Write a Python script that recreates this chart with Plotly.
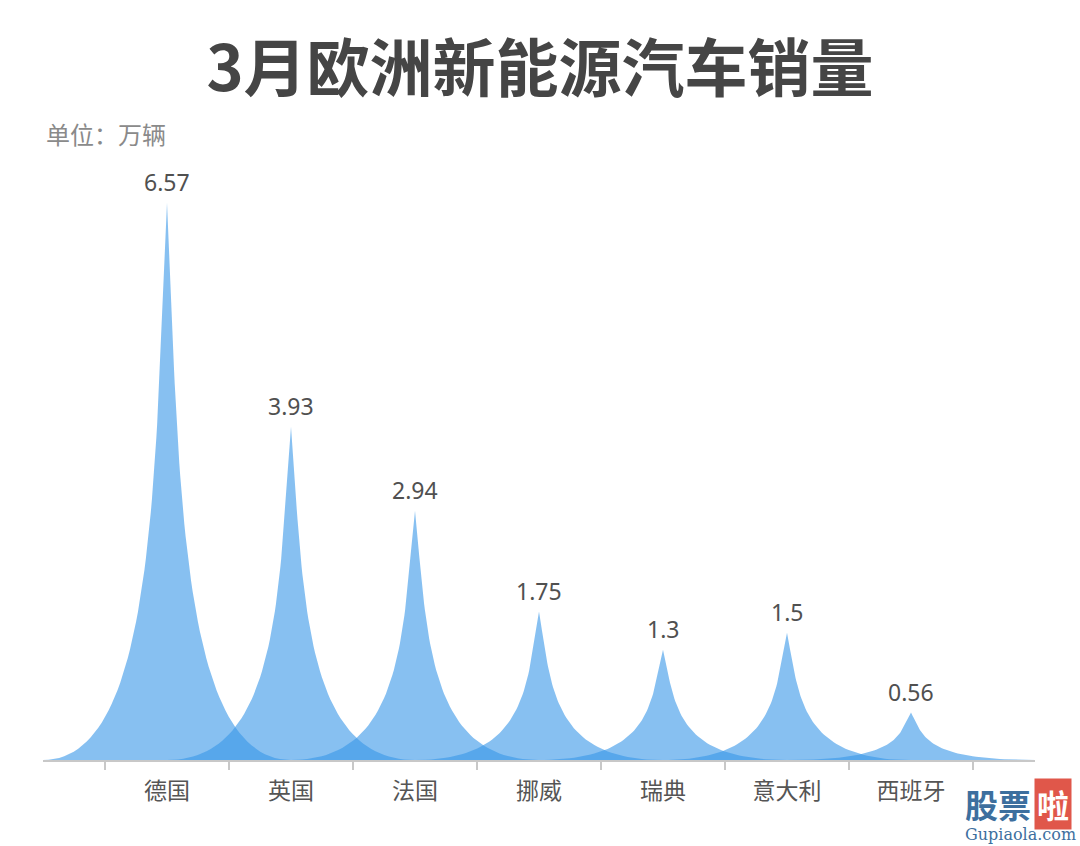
import numpy as np
import plotly.graph_objects as go

title = "3月欧洲新能源汽车销量"
unit = "单位：万辆"
countries = ["德国", "英国", "法国", "挪威", "瑞典", "意大利", "西班牙"]
sales = [6.57, 3.93, 2.94, 1.75, 1.3, 1.5, 0.56]
value_labels = ["6.57", "3.93", "2.94", "1.75", "1.3", "1.5", "0.56"]

FONT = "Noto Sans CJK SC"
FILL = "rgba(55,150,232,0.6)"


def bezier(p0, p1, p2, p3, n=60):
    t = np.linspace(0, 1, n)[:, None]
    pts = ((1 - t) ** 3) * p0 + 3 * ((1 - t) ** 2) * t * p1 + 3 * (1 - t) * t ** 2 * p2 + t ** 3 * p3
    return pts[:, 0], pts[:, 1]


fig = go.Figure()
for i, v in enumerate(sales):
    # spike: path M0,10 L10,10 C5.5,10 5.5,5 5,0 C4.5,5 4.5,10 0,10 z (half-width 1 category)
    xr, yr = bezier(np.array([i + 1.0, 0.0]), np.array([i + 0.1, 0.0]),
                    np.array([i + 0.1, 0.5 * v]), np.array([i + 0.0, v]))
    xl, yl = bezier(np.array([i + 0.0, v]), np.array([i - 0.1, 0.5 * v]),
                    np.array([i - 0.1, 0.0]), np.array([i - 1.0, 0.0]))
    xs = np.concatenate([xr, xl, [i + 1.0]])
    ys = np.concatenate([yr, yl, [0.0]])
    fig.add_trace(go.Scatter(x=xs, y=ys, mode="lines", fill="toself", fillcolor=FILL,
                             line=dict(width=0), hoverinfo="skip", showlegend=False))

# invisible trace on xaxis2 so category labels render
fig.add_trace(go.Scatter(x=list(range(len(countries))), y=sales, mode="markers",
                         marker=dict(opacity=0), showlegend=False, hoverinfo="skip", xaxis="x2"))

pw = 1080 - 43 - 45
ph = 846 - 160 - 86

annotations = [
    dict(text=unit, x=(44 - 43) / pw, y=(846 - 86 - 133) / ph, xref="paper", yref="paper",
         showarrow=False, xanchor="left", yanchor="middle",
         font=dict(family=FONT, size=24, color="#8a8a8a")),
]
for i, (v, lab) in enumerate(zip(sales, value_labels)):
    annotations.append(dict(text=lab, x=i, y=v, xref="x", yref="y", showarrow=False,
                            xanchor="center", yanchor="bottom", yshift=3,
                            font=dict(family="Noto Sans", size=23, color="#505050")))

# watermark
annotations += [
    dict(text="<b>股票</b>", x=(998 - 43) / pw, y=(846 - 86 - 804) / ph,
         xref="paper", yref="paper", showarrow=False, xanchor="center", yanchor="middle",
         font=dict(family=FONT, size=33, color="#3d6f9e")),
    dict(text="<b>啦</b>", x=(1053 - 43) / pw, y=(846 - 86 - 804) / ph,
         xref="paper", yref="paper", showarrow=False, xanchor="center", yanchor="middle",
         bgcolor="#e0574a", font=dict(family=FONT, size=32, color="white"), borderpad=2),
    dict(text="Gupiaola.com", x=(1020 - 43) / pw, y=(846 - 86 - 834) / ph,
         xref="paper", yref="paper", showarrow=False, xanchor="center", yanchor="middle",
         font=dict(family="DejaVu Serif", size=16, color="#3d6f9e")),
]

fig.update_layout(
    width=1080, height=846,
    margin=dict(l=43, r=45, t=160, b=86),
    paper_bgcolor="white", plot_bgcolor="white",
    font=dict(family=FONT),
    title=dict(text="<b>" + title + "</b>", x=0.5, xanchor="center", y=0.918, yanchor="middle",
               font=dict(family=FONT, size=63, color="#454545")),
    xaxis=dict(range=[-1, 7], showgrid=False, zeroline=False, showline=True,
               linecolor="#c8c8c8", linewidth=2,
               tickvals=[k - 0.5 for k in range(len(countries) + 1)],
               ticktext=[""] * (len(countries) + 1),
               ticks="outside", ticklen=8, tickcolor="#c8c8c8", tickwidth=1.5),
    xaxis2=dict(range=[-1, 7], overlaying="x", side="bottom", showgrid=False, zeroline=False,
                showline=False, tickvals=list(range(len(countries))), ticktext=countries,
                ticks="", tickfont=dict(family=FONT, size=23, color="#555555"),
                ticklabelstandoff=15),
    yaxis=dict(range=[0, 600 / 84.8], visible=False, showgrid=False, zeroline=False),
    annotations=annotations,
)

fig.write_html("out.html")
